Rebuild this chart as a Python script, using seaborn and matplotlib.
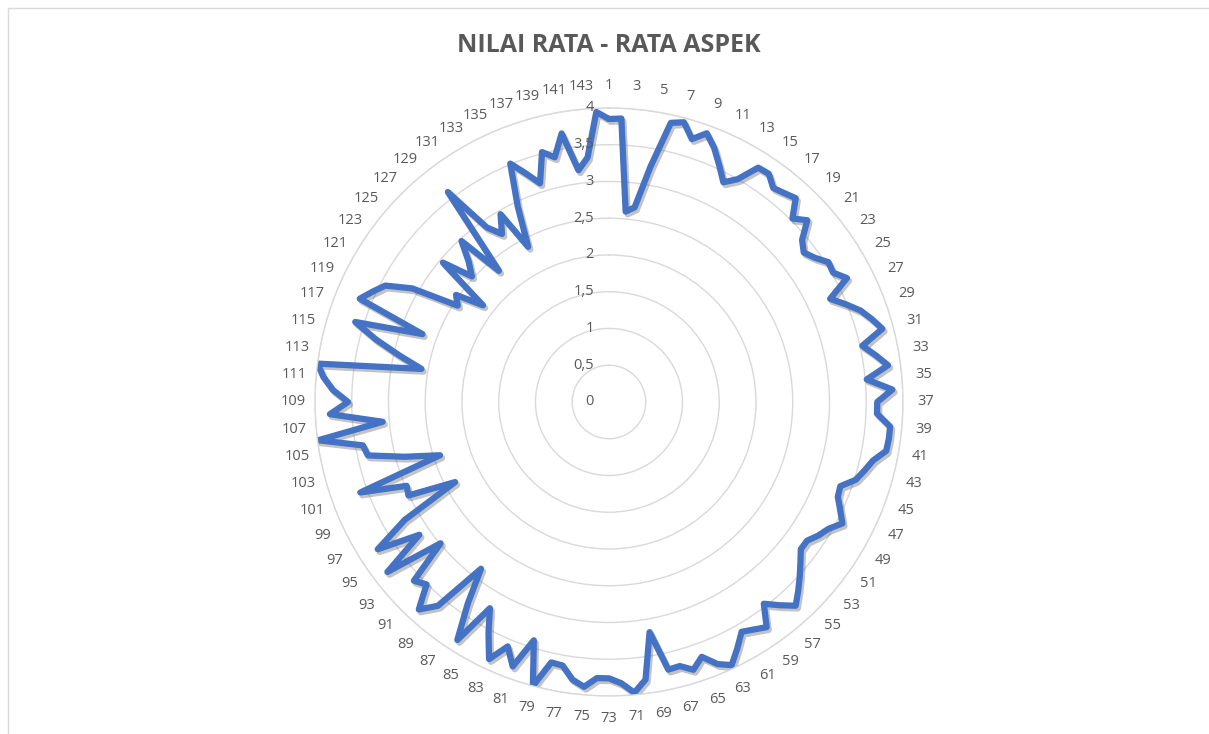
import numpy as np
import pandas as pd
import seaborn as sns
import matplotlib.pyplot as plt
import matplotlib.patheffects as pe
from matplotlib.transforms import offset_copy
from matplotlib.patches import Rectangle

# data (144 aspects)
aspek = list(range(1, 145))
nilai = [
    3.85, 3.86, 2.60, 2.67, 3.25, 3.89, 3.94, 3.75, 3.89, 3.74,
    3.55, 3.37, 3.50, 3.78, 3.79, 3.67, 3.71, 3.76, 3.53, 3.66,
    3.43, 3.34, 3.42, 3.54, 3.52, 3.65, 3.32, 3.48, 3.64, 3.75,
    3.85, 3.53, 3.68, 3.83, 3.52, 3.86, 3.65, 3.65, 3.84, 3.84,
    3.83, 3.68, 3.60, 3.52, 3.35, 3.37, 3.47, 3.58, 3.45, 3.38,
    3.29, 3.29, 3.40, 3.52, 3.64, 3.76, 3.61, 3.46, 3.74, 3.67,
    3.61, 3.78, 3.95, 3.86, 3.69, 3.82, 3.72, 3.73, 3.18, 3.81,
    3.97, 3.83, 3.76, 3.76, 3.89, 3.81, 3.64, 3.63, 4.00, 3.40,
    3.83, 3.60, 3.86, 3.55, 3.24, 3.84, 3.35, 2.86, 3.62, 3.83,
    3.51, 3.60, 2.99, 3.80, 3.15, 3.73, 3.21, 2.36, 3.01, 2.98,
    3.60, 2.41, 2.88, 3.36, 3.40, 3.99, 3.09, 3.80, 3.55, 3.76,
    3.90, 4.00, 2.59, 2.92, 3.28, 3.62, 2.70, 3.67, 3.55, 3.43,
    3.09, 2.44, 2.54, 2.16, 2.95, 2.53, 2.70, 2.97, 2.33, 3.60,
    2.90, 2.71, 2.95, 2.38, 2.94, 3.51, 3.31, 3.12, 3.52, 3.41,
    3.71, 3.18, 3.34, 3.95,
]
skala = [0, 0.5, 1, 1.5, 2, 2.5, 3, 3.5, 4]
skala_label = ["0", "0,5", "1", "1,5", "2", "2,5", "3", "3,5", "4"]

sns.set_theme(style="white")
plt.rcParams['font.family'] = ['Open Sans', 'DejaVu Sans']

n = len(aspek)
theta = np.linspace(0, 2 * np.pi, n, endpoint=False)
df = pd.DataFrame({'theta': np.append(theta, 2 * np.pi),
                   'nilai': nilai + [nilai[0]]})

fig = plt.figure(figsize=(12.09, 7.34), dpi=100)
ax = fig.add_axes([0.2605, 0.0518, 0.4864, 0.8011], projection='polar')
ax.set_theta_zero_location('N')
ax.set_theta_direction(-1)

sns.lineplot(data=df, x='theta', y='nilai', sort=False, estimator=None,
             color='#4472C4', linewidth=4.5, ax=ax,
             path_effects=[pe.SimpleLineShadow(offset=(1.5, -2), alpha=0.35,
                                               shadow_color='#555555'),
                           pe.Normal()])

ax.set_ylim(0, 4)
ax.set_yticks(skala)
ax.set_yticklabels([])
ax.yaxis.grid(True, color='#D9D9D9', linewidth=1)
ax.xaxis.grid(False)
ax.spines['polar'].set_color('#D9D9D9')
ax.spines['polar'].set_linewidth(1)

ganjil = [i for i in range(n) if aspek[i] % 2 == 1]
ax.set_xticks(theta[ganjil])
ax.set_xticklabels([str(aspek[i]) for i in ganjil], fontsize=10.5, color='#595959')
ax.tick_params(axis='x', pad=3)
ax.set_xlabel('')
ax.set_ylabel('')

geser = offset_copy(ax.transData, fig=fig, x=-15, y=0, units='dots')
for v, s in zip(skala, skala_label):
    ax.text(0, v, s, transform=geser, ha='right', va='center',
            fontsize=10.5, color='#595959')

fig.text(0.5037, 0.938, 'NILAI RATA - RATA ASPEK', ha='center', va='center',
         fontsize=18, fontweight='bold', color='#595959')

fig.patches.append(Rectangle((8 / 1209, -0.1), 1.2, 1.1 - 8 / 734,
                             transform=fig.transFigure, fill=False,
                             edgecolor='#D9D9D9', linewidth=1))

fig.savefig('out.png', dpi=100, facecolor='white')
